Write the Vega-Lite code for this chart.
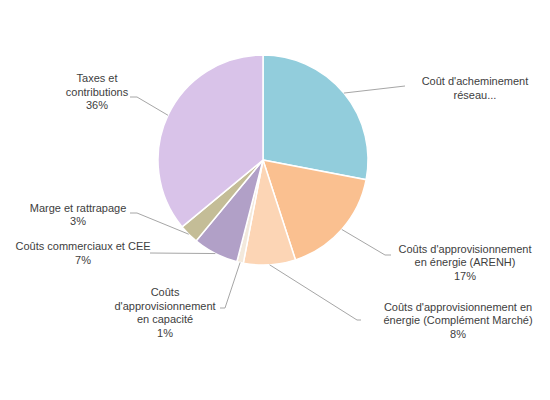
{
  "$schema": "https://vega.github.io/schema/vega-lite/v6.json",
  "width": 526,
  "height": 320,
  "autosize": {"type": "none"},
  "padding": {"left": 0, "top": 0, "right": 24, "bottom": 80},
  "background": "white",
  "config": {"view": {"stroke": null}},
  "data": {
    "values": [
      {"order": 1, "cat": "Coût d'acheminement réseau", "value": 28, "label": ["Coût d'acheminement", "réseau..."]},
      {"order": 2, "cat": "Coûts d'approvisionnement en énergie (ARENH)", "value": 17, "label": ["Coûts d'approvisionnement", "en énergie  (ARENH)", "17%"]},
      {"order": 3, "cat": "Coûts d'approvisionnement en énergie (Complément Marché)", "value": 8, "label": ["Coûts d'approvisionnement en", "énergie  (Complément Marché)", "8%"]},
      {"order": 4, "cat": "Coûts d'approvisionnement en capacité", "value": 1, "label": ["Coûts", "d'approvisionnement", "en capacité", "1%"]},
      {"order": 5, "cat": "Coûts commerciaux et CEE", "value": 7, "label": ["Coûts commerciaux et CEE", "7%"]},
      {"order": 6, "cat": "Marge et rattrapage", "value": 3, "label": ["Marge et rattrapage", "3%"]},
      {"order": 7, "cat": "Taxes et contributions", "value": 36, "label": ["Taxes et", "contributions", "36%"]}
    ]
  },
  "layer": [
    {
      "mark": {"type": "arc", "outerRadius": 105, "stroke": "white", "strokeWidth": 1.5},
      "encoding": {
        "theta": {"field": "value", "type": "quantitative", "stack": true},
        "order": {"field": "order", "type": "quantitative", "sort": "ascending"},
        "color": {
          "field": "cat",
          "type": "nominal",
          "legend": null,
          "sort": {"field": "order"},
          "scale": {
            "domain": [
              "Coût d'acheminement réseau",
              "Coûts d'approvisionnement en énergie (ARENH)",
              "Coûts d'approvisionnement en énergie (Complément Marché)",
              "Coûts d'approvisionnement en capacité",
              "Coûts commerciaux et CEE",
              "Marge et rattrapage",
              "Taxes et contributions"
            ],
            "range": ["#92CDDC", "#FAC090", "#FCD5B5", "#F3E9DC", "#B1A0C7", "#C4BD97", "#D9C3E9"]
          }
        }
      }
    },
    {
      "transform": [
        {"stack": "value", "groupby": [], "sort": [{"field": "order", "order": "ascending"}], "as": ["v0", "v1"]}
      ],
      "mark": {"type": "rule", "color": "#a6a6a6", "strokeWidth": 1},
      "encoding": {
        "x": {"value": {"expr": "width / 2 + 105 * sin((datum.v0 + datum.v1) * PI / 100)"}},
        "y": {"value": {"expr": "height / 2 - 105 * cos((datum.v0 + datum.v1) * PI / 100)"}},
        "x2": {"value": {"expr": "width / 2 + [142, 122, 94, -38, -113, -126, -126][datum.order - 1]"}},
        "y2": {"value": {"expr": "height / 2 + [-74, 95, 160, 148, 93, 53, -63][datum.order - 1]"}}
      }
    },
    {
      "mark": {"type": "rule", "color": "#a6a6a6", "strokeWidth": 1},
      "encoding": {
        "x": {"value": {"expr": "width / 2 + [142, 122, 94, -38, -113, -126, -126][datum.order - 1]"}},
        "y": {"value": {"expr": "height / 2 + [-74, 95, 160, 148, 93, 53, -63][datum.order - 1]"}},
        "x2": {"value": {"expr": "width / 2 + [142, 128, 98, -43, -113, -133, -133][datum.order - 1]"}},
        "y2": {"value": {"expr": "height / 2 + [-74, 95, 160, 148, 93, 53, -63][datum.order - 1]"}}
      }
    },
    {
      "mark": {
        "type": "text",
        "font": "Liberation Sans",
        "fontSize": 11,
        "lineHeight": 13.5,
        "color": "#404040",
        "align": "center",
        "baseline": "middle",
        "dx": {"expr": "[119.5, 112, 187.5, -71.8, -125.5, -100.1, -57.4][datum.order - 1]"},
        "dy": {"expr": "[-1.5, 10.6, 28.2, 15.9, -19.9, -35.9, -29.9][datum.order - 1]"}
      },
      "encoding": {
        "theta": {"field": "value", "type": "quantitative", "stack": true},
        "order": {"field": "order", "type": "quantitative", "sort": "ascending"},
        "radius": {"value": 120},
        "text": {"field": "label"}
      }
    }
  ]
}
